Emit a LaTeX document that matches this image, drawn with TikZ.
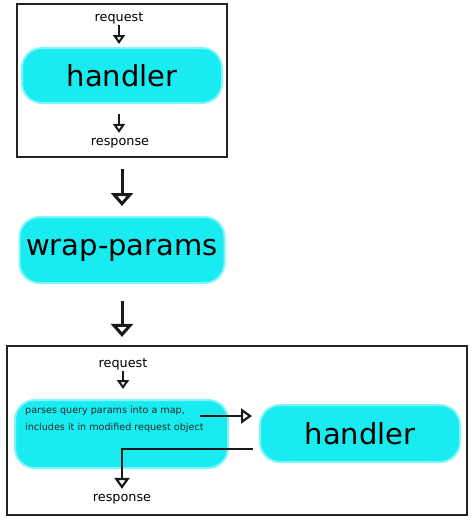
\documentclass[tikz,border=0pt]{standalone}
\usepackage{fontspec}
\setmainfont{DejaVu Sans}
\usetikzlibrary{arrows.meta,calc}
\definecolor{pillcyan}{RGB}{24,236,240}
\definecolor{framegray}{RGB}{35,35,35}
\tikzset{
  pill/.style={fill=pillcyan, draw=pillcyan!55, line width=2pt, rounded corners=20pt, inner sep=0pt},
  frame/.style={draw=framegray, line width=2.2pt, inner sep=0pt, fill=none},
  lbl/.style={font=\fontsize{12.8}{14}\selectfont, inner sep=1pt, text=black},
  big/.style={font=\fontsize{29}{32}\selectfont, text=black},
  smallarrow/.style={line width=2pt, draw=black!90, -{Triangle[open, width=12pt, length=9pt, line width=2pt]}},
  bigarrow/.style={line width=3pt, draw=black!90, -{Triangle[open, width=22pt, length=13pt, line width=3pt]}},
  midarrow/.style={line width=2.2pt, draw=black!90, -{Triangle[open, width=15pt, length=11pt, line width=2.2pt]}},
}
\begin{document}
\begin{tikzpicture}[x=1pt, y=-1pt]
\useasboundingbox (0,0) rectangle (474,520);
% top frame
\node[frame, minimum width=210pt, minimum height=153pt] (box1) at (122,80.5) {};
\node[lbl] (req1) at (119,18) {request};
\node[pill, minimum width=200pt, minimum height=55pt, big] (h1) at (122,75.5) {handler};
\node[lbl] (resp1) at (120,143) {response};
\draw[smallarrow, shorten >=3pt] (req1.south) -- (req1.south |- h1.north);
\draw[smallarrow, shorten <=10pt, shorten >=4pt] (h1.south) ++(-3,0) coordinate (h1s) -- (h1s |- resp1.north);
% wrap-params
\node[pill, minimum width=205pt, minimum height=66pt, big] (wp) at (122,250) {wrap-params};
\draw[bigarrow, shorten <=11pt, shorten >=10pt] (box1.south) -- (box1.south |- wp.north);
% bottom frame
\node[frame, minimum width=460pt, minimum height=169pt] (box2) at (237,430.5) {};
\draw[bigarrow, shorten <=17pt, shorten >=8pt] (wp.south) -- (wp.south |- box2.north);
\node[lbl] (req2) at (123,364) {request};
\node[pill, minimum width=213pt, minimum height=68pt] (pb) at (121.5,434) {};
\node[anchor=west, align=left, inner sep=0pt, text=black!85, font=\fontsize{9.6}{17}\selectfont] (ptext) at (25,419.5) {parses query params into a map,\\includes it in modified request object};
\node[pill, minimum width=200pt, minimum height=57pt, big] (h2) at (360,433.5) {handler};
\node[lbl] (resp2) at (122,499) {response};
\draw[smallarrow, shorten >=10pt] (req2.south) -- (req2.south |- pb.north);
\coordinate (fwd) at (200,416);
\draw[midarrow, shorten >=7pt] (fwd) -- (fwd -| h2.west);
\coordinate (back) at (253,449);
\draw[midarrow, shorten >=4pt] (back) -| (resp2.north);
\end{tikzpicture}
\end{document}
